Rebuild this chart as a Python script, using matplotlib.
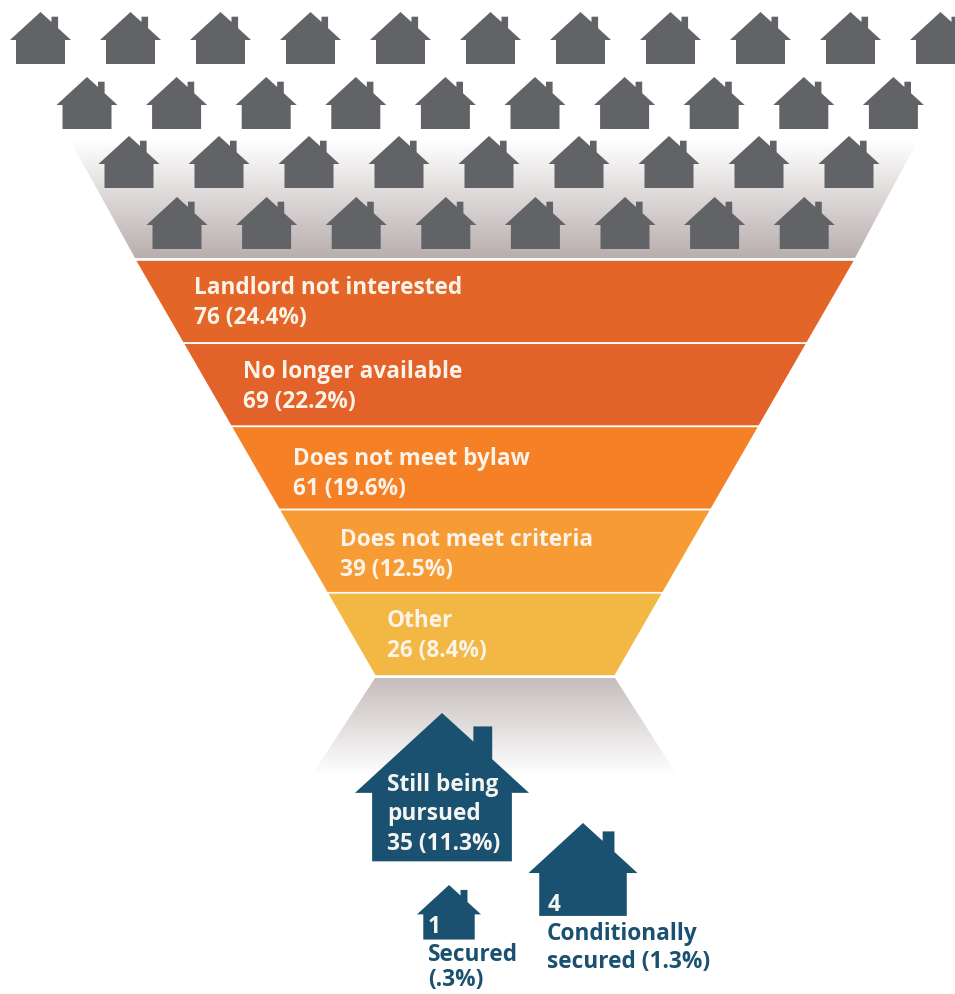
import numpy as np
import matplotlib
matplotlib.use("Agg")
import matplotlib.pyplot as plt
from matplotlib.patches import Polygon
from matplotlib.colors import LinearSegmentedColormap

plt.rcParams['font.family'] = ['Open Sans', 'DejaVu Sans']

# rejected sites, widest band first
reasons = ["Landlord not interested", "No longer available", "Does not meet bylaw",
           "Does not meet criteria", "Other"]
counts = [76, 69, 61, 39, 26]
percents = ["24.4", "22.2", "19.6", "12.5", "8.4"]
band_colors = ["#e36527", "#e2622a", "#f58025", "#f79b34", "#f2b843"]
text_x = [194, 243, 293, 340, 387]
text_dy = [28, 29, 33, 30, 28]

# grey houses per row of the pile
row_counts = [11, 10, 9, 8]
row_left = [40.5, 87, 129, 177]
row_top = [12, 77, 136, 197]
row_step = [90, 89.6, 90, 89.6]

GREY = "#626366"
BLUE = "#1a5170"
FS = 16.3

# outline of a house, apex at 0,0, for a house 61 wide
HOUSE = np.array([(0, 0), (11, 10), (11, 4.7), (17.6, 4.7), (17.6, 16.2), (30.5, 28),
                  (24.5, 28), (24.5, 52), (-24.5, 52), (-24.5, 28), (-30.5, 28)])


def draw_house(ax, cx, top, width, color):
    pts = HOUSE * (width / 61.0) + [cx, top]
    ax.add_patch(Polygon(pts, closed=True, fc=color, ec="none", zorder=3))


def gradient(ax, pts, y0, y1, c0, c1):
    cmap = LinearSegmentedColormap.from_list("g", [c0, c1])
    im = ax.imshow(np.linspace(0, 1, 256).reshape(-1, 1), cmap=cmap, aspect="auto",
                   extent=(0, 955, y1, y0), zorder=1)
    clip = Polygon(pts, closed=True, transform=ax.transData, fc="none", ec="none")
    ax.add_patch(clip)
    im.set_clip_path(clip)


fig = plt.figure(figsize=(9.55, 9.94), dpi=100)
ax = fig.add_axes([0, 0, 1, 1])

# grey shadows above and below the funnel
gradient(ax, [(70, 140), (918, 140), (855, 258), (135, 258)], 140, 258, "#ffffff", "#b9aeae")
gradient(ax, [(375, 678), (615, 678), (677, 775), (312, 775)], 678, 775, "#c6bdbd", "#ffffff")

# funnel bands, equal height
top, bottom = 260.0, 676.0
edges = np.linspace(top, bottom, len(reasons) + 1)
def half_width(y):
    return 360 - (y - top) * 240 / (bottom - top)

for i, reason in enumerate(reasons):
    y0, y1 = edges[i], edges[i + 1]
    pts = [(495 - half_width(y0), y0), (495 + half_width(y0), y0),
           (495 + half_width(y1), y1), (495 - half_width(y1), y1)]
    ax.add_patch(Polygon(pts, closed=True, fc=band_colors[i], ec="white", lw=1.2, zorder=2))
    ax.text(text_x[i], y0 + text_dy[i], reason, color="#fbf3e8", fontsize=FS, fontweight="bold",
            va="center", ha="left", zorder=4)
    ax.text(text_x[i], y0 + text_dy[i] + 30, f"{counts[i]} ({percents[i]}%)", color="#fbf3e8",
            fontsize=FS, fontweight="bold", va="center", ha="left", zorder=4)

# pile of grey houses
for n, left, y, step in zip(row_counts, row_left, row_top, row_step):
    for k in range(n):
        draw_house(ax, left + k * step, y, 61, GREY)

# remaining sites
draw_house(ax, 442, 713, 174, BLUE)
draw_house(ax, 583, 823, 109, BLUE)
draw_house(ax, 449, 885, 64, BLUE)

for y, s in zip([785, 814, 844], ["Still being", "pursued", "35 (11.3%)"]):
    ax.text(387, y, s, color="#f4f4f0", fontsize=FS, fontweight="bold", va="center", zorder=4)
ax.text(548, 905, "4", color="#f4f4f0", fontsize=FS, fontweight="bold", va="center", zorder=4)
ax.text(428, 927, "1", color="#f4f4f0", fontsize=FS, fontweight="bold", va="center", zorder=4)
for y, s in zip([934, 962], ["Conditionally", "secured (1.3%)"]):
    ax.text(547, y, s, color=BLUE, fontsize=FS, fontweight="bold", va="center", zorder=4)
for y, s in zip([955, 980], ["Secured", "(.3%)"]):
    ax.text(428, y, s, color=BLUE, fontsize=FS, fontweight="bold", va="center", zorder=4)

ax.set_xlim(0, 955)
ax.set_ylim(994, 0)
ax.axis("off")

fig.savefig("out.png", dpi=100)
